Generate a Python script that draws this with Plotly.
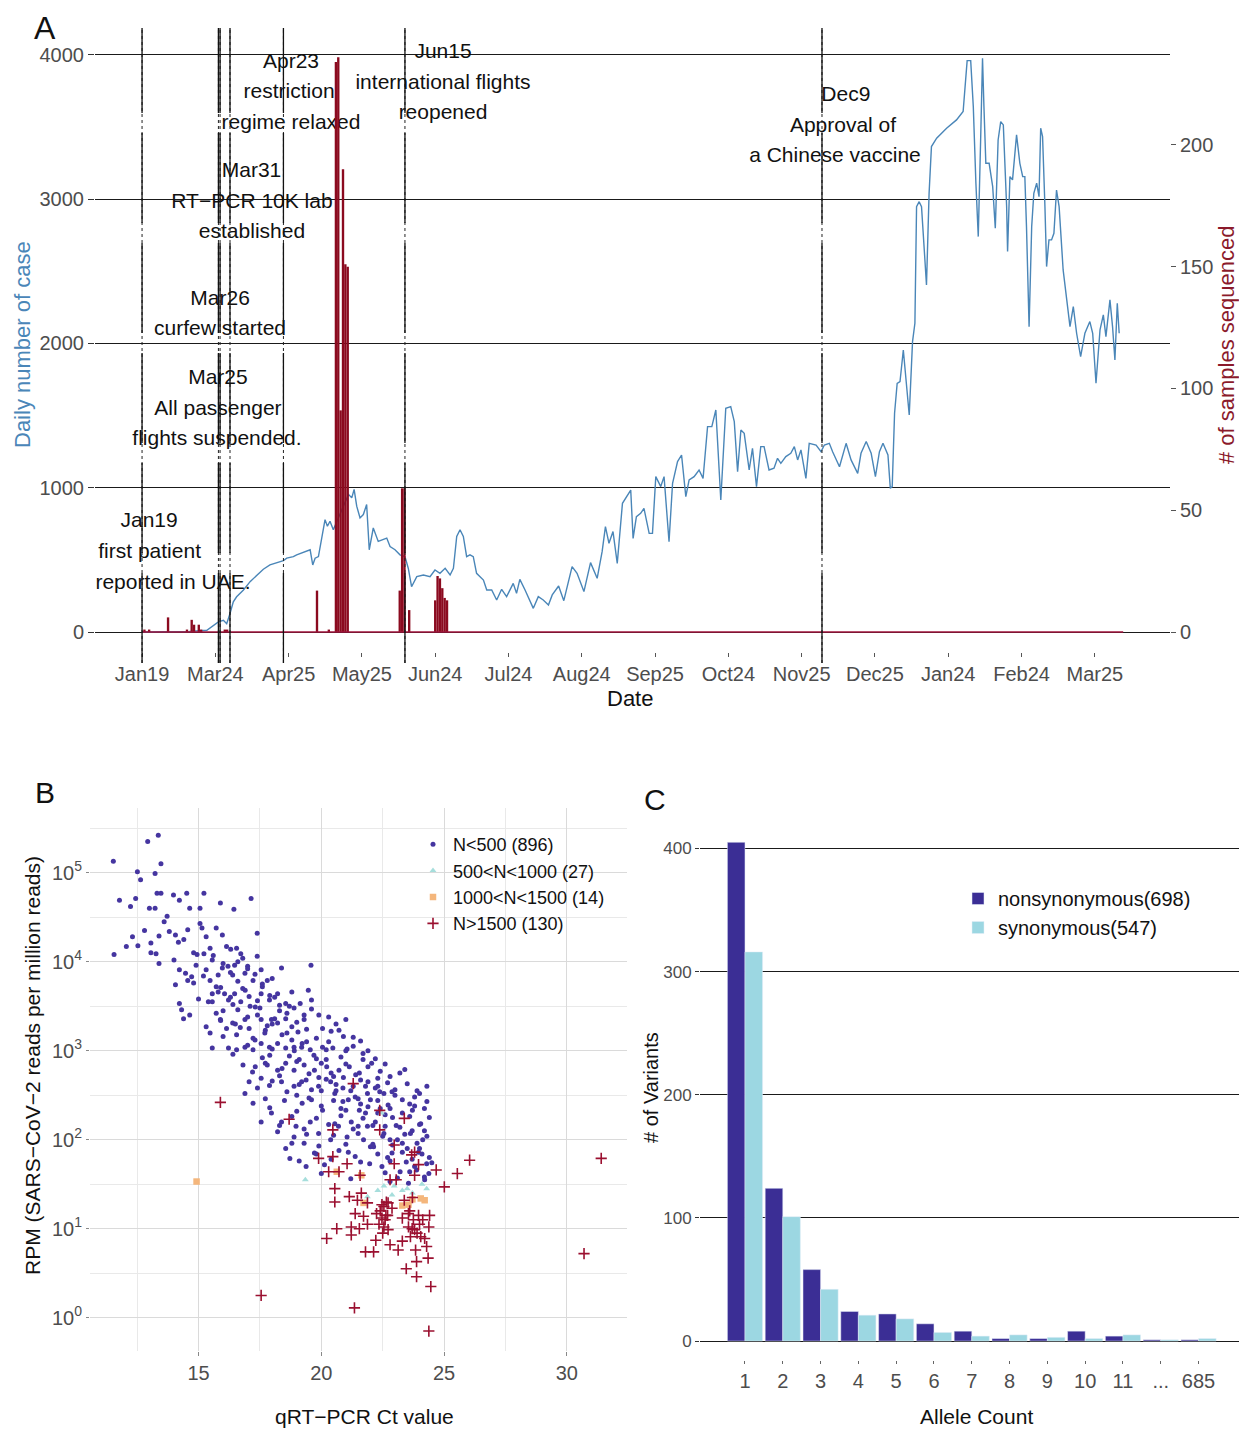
import plotly.graph_objects as go

W, H = 1239, 1429
FONT = "Liberation Sans, Arial, Helvetica, sans-serif"
GRAY = "#4D4D4D"

# ---------------- Panel A data ----------------
tick_idx = [0, 31, 62, 93, 124, 155, 186, 217, 248, 279, 310, 341, 372, 403]
tick_labels = ["Jan19", "Mar24", "Apr25", "May25", "Jun24", "Jul24", "Aug24", "Sep25",
               "Oct24", "Nov25", "Dec25", "Jan24", "Feb24", "Mar25"]

case_idx = [0, 20, 27.4, 30.2, 32.3, 34.4, 35.8, 37.2, 38.6, 40.0, 42.9, 45.7, 48.5, 51.3, 54.1,
            56.9, 59.8, 61.2, 64.0, 65.4, 68.2, 71.1, 72.2, 73.2, 74.6, 76.0, 77.4, 78.4, 79.5,
            80.9, 87.3, 88.7, 89.7, 90.8, 92.2, 93.6, 95.0, 96.1, 97.8, 99.9, 102.1, 103.5,
            104.9, 107.0, 109.1, 111.2, 112.6, 114.0, 116.2, 119.0, 121.8, 123.9, 126.0, 128.2,
            130.3, 131.7, 133.1, 134.5, 135.9, 137.3, 138.7, 140.1, 141.5, 144.4, 145.8, 147.9,
            150.0, 152.1, 154.2, 157.0, 158.4, 159.8, 162.0, 165.5, 167.6, 169.7, 171.9, 173.5,
            176.2, 178.4, 181.9, 184.0, 186.9, 189.7, 192.5, 194.6, 196.0, 197.5, 199.2, 201.0,
            203.2, 205.3, 206.7, 207.7, 209.1, 210.9, 212.3, 214.5, 215.9, 217.3, 219.4, 220.8,
            222.9, 224.4, 226.5, 228.2, 230.0, 231.4, 233.5, 235.6, 237.3, 239.2, 241.0, 242.7,
            243.4, 244.8, 246.9, 249.0, 250.5, 251.9, 253.3, 254.7, 256.8, 258.2, 259.9, 261.7,
            263.1, 265.2, 267.3, 268.8, 270.2, 272.3, 274.4, 275.9, 277.3, 278.7, 280.8, 282.2,
            285.1, 287.2, 288.6, 290.7, 292.1, 295.0, 297.8, 299.9, 302.7, 304.1, 306.3, 308.4,
            310.2, 311.9, 313.4, 315.5, 316.5, 317.3, 318.3, 319.4, 320.6, 322.0, 324.5, 325.9,
            326.9, 327.6, 328.7, 329.7, 331.8, 332.9, 333.9, 336.1, 340.3, 344.5, 347.3, 348.1,
            349.0, 350.5, 351.6, 352.7, 353.7, 354.7, 355.5, 356.1, 356.9, 358.3, 359.8, 360.9,
            362.1, 363.2, 364.3, 365.7, 366.1, 367.1, 368.2, 369.9, 371.3, 372.5, 373.4, 374.1,
            375.2, 376.3, 377.2, 378.4, 379.4, 380.1, 380.9, 381.9, 382.6, 383.6, 384.7, 385.7,
            386.8, 387.9, 389.6, 392.5, 393.9, 395.3, 397.0, 398.8, 400.9, 402.1, 403.5, 405.2,
            406.6, 407.7, 409.4, 410.5, 411.5, 412.5, 413.3]
case_val = [0, 3, 12, 47, 70, 81, 58, 128, 209, 244, 291, 349, 395, 435, 465,
            481, 495, 512, 523, 535, 551, 570, 465, 512, 523, 640, 779, 733, 768,
            709, 954, 930, 988, 872, 791, 814, 884, 570, 721, 628, 640, 651,
            593, 570, 535, 523, 442, 314, 384, 395, 384, 430, 407, 442,
            395, 442, 663, 709, 663, 523, 535, 522, 407, 360, 291, 291,
            222, 296, 245, 337, 268, 365, 291, 164, 245, 222, 187, 257,
            319, 217, 453, 407, 280, 481, 372, 557, 730, 615, 696, 476,
            892, 950, 984, 649, 800, 823, 857, 684, 684, 1077, 1008, 1077,
            626, 1031, 1181, 1227, 938, 1054, 1077, 1123, 1065, 1424, 1424, 1539,
            1354, 915, 1551, 1562, 1458, 1112, 1400, 1377, 1123, 1273, 1008, 1285,
            1285, 1123, 1135, 1204, 1169, 1216, 1239, 1285, 1193, 1262, 1065, 1308,
            1296, 1250, 1296, 1308, 1250, 1146, 1308, 1193, 1100, 1239, 1320, 1239,
            1077, 1250, 1308, 1227, 996, 1008, 1516, 1724, 1736, 1955, 1504, 2013,
            2140, 2949, 2983, 2949, 2406, 3041, 3365, 3423, 3492, 3550, 3608, 3804,
            3961, 3961, 3642, 3111, 2741, 3411, 3977, 3642, 3249, 3249, 3087, 2799,
            3411, 3538, 3515, 2949, 2637, 3157, 3134, 3446, 3249, 3157, 3157, 2810,
            2117, 2810, 3041, 3111, 3018, 3492, 3434, 2949, 2533, 2718, 2718, 2764,
            3064, 2949, 2510, 2117, 2256, 2071, 1909, 2071, 2152, 2071, 1724, 2094,
            2198, 2048, 2302, 2117, 1886, 2279, 2071]

sample_idx = [1, 3, 11, 19, 21, 22, 24, 25, 35, 36, 74, 79, 82, 83, 84, 85, 86, 87,
              109, 110, 111, 113, 124, 125, 126, 127, 128, 129]
sample_n = [1, 1, 6, 1, 5, 3, 3, 1, 1, 1, 17, 1, 234, 236, 91, 190, 151, 150,
            17, 59, 59, 9, 13, 23, 22, 18, 14, 13]
sample_span = [0, 415]

event_idx = [0, 32.3, 33.0, 37.2, 59.8, 111.2, 287.6]
event_lines = [
    (3.0, 763, "Jan19"), (3.2, 548, "first patient"), (13.1, 333, "reported in UAE."),
    (32.1, 1754, "Mar25"), (32.1, 1539, "All passenger"), (31.7, 1331, "flights suspended."),
    (33.0, 2302, "Mar26"), (33.0, 2094, "curfew started"),
    (46.3, 3189, "Mar31"), (46.5, 2974, "RT\u2212PCR 10K lab"), (46.5, 2766, "established"),
    (63.0, 3945, "Apr23"), (62.2, 3737, "restriction"), (63.0, 3522, "regime relaxed"),
    (127.3, 4014, "Jun15"), (127.3, 3799, "international flights"), (127.3, 3591, "reopened"),
    (297.7, 3716, "Dec9"), (296.5, 3501, "Approval of"), (293.1, 3293, "a Chinese vaccine"),
]

# ---------------- Panel B data (Ct value, log10 RPM) ----------------
blue_pts = [
    (11.53, 5.13), (13.36, 5.42), (12.93, 5.35), (12.51, 5.01), (13.47, 5.10), (13.23, 4.99),
    (12.64, 4.92), (11.78, 4.69), (12.44, 4.71), (12.23, 4.62), (13.31, 4.77), (13.47, 4.77),
    (11.56, 4.08), (12.06, 4.17), (12.31, 4.28), (12.53, 4.18), (13.06, 4.21), (13.27, 4.09),
    (13.39, 3.98), (13.06, 4.10), (13.23, 4.60), (13.39, 4.29), (13.72, 4.51), (13.98, 4.75),
    (14.22, 4.69), (14.52, 4.77), (15.22, 4.77), (15.89, 4.66), (16.44, 4.59), (17.14, 4.71),
    (14.64, 4.60), (15.06, 4.60), (13.81, 4.34), (14.06, 4.30), (14.18, 4.22), (14.56, 4.36),
    (15.06, 4.43), (15.14, 4.38), (15.31, 4.28), (15.47, 4.15), (15.72, 4.38), (15.97, 4.30),
    (16.14, 4.17), (16.31, 4.14), (16.55, 4.15), (17.39, 4.32), (17.39, 4.06), (14.94, 4.08),
    (15.22, 4.09), (15.56, 4.02), (15.97, 3.93), (16.47, 3.96), (16.72, 4.09), (19.58, 3.96),
    (14.22, 3.91), (14.47, 3.87), (14.72, 3.83), (14.06, 3.74), (14.56, 3.79), (15.31, 3.91),
    (15.47, 3.79), (15.72, 3.72), (16.39, 3.85), (16.89, 3.87), (17.22, 3.79), (17.55, 3.91),
    (17.80, 3.79), (18.38, 3.93), (19.47, 3.68), (14.22, 3.53), (14.31, 3.46), (14.39, 3.36),
    (14.64, 3.40), (15.56, 3.64), (15.56, 3.55), (15.72, 3.42), (16.06, 3.64), (16.22, 3.57),
    (16.47, 3.64), (16.72, 3.55), (17.06, 3.61), (17.31, 3.49), (17.55, 3.64), (17.89, 3.57),
    (18.22, 3.64), (18.55, 3.53), (18.89, 3.48), (19.14, 3.53), (15.31, 3.27), (15.47, 3.20),
    (15.56, 3.03), (15.89, 3.35), (16.14, 3.25), (16.39, 3.31), (16.55, 3.18), (16.89, 3.35),
    (17.06, 3.25), (17.22, 3.14), (17.55, 3.35), (17.72, 3.23), (17.97, 3.35), (18.22, 3.31),
    (18.55, 3.36), (18.80, 3.27), (19.05, 3.21), (19.30, 3.35), (20.05, 3.25), (20.72, 3.23),
    (16.22, 3.03), (16.55, 3.01), (16.89, 3.04), (17.22, 3.01), (17.55, 3.08), (17.89, 3.04),
    (18.22, 3.08), (18.55, 3.03), (18.89, 3.04), (19.22, 3.08), (19.55, 3.01), (20.05, 3.04),
    (20.47, 3.03), (21.05, 3.02), (16.81, 2.84), (17.31, 2.82), (17.72, 2.86), (18.22, 2.78),
    (18.55, 2.86), (18.89, 2.78), (19.30, 2.84), (19.72, 2.78), (20.22, 2.82), (20.72, 2.78),
    (21.14, 2.82), (21.55, 2.75), (22.05, 2.86), (22.30, 2.69), (17.06, 2.65), (17.55, 2.69),
    (17.89, 2.61), (18.38, 2.65), (18.89, 2.60), (19.38, 2.67), (19.89, 2.60), (20.38, 2.65),
    (20.88, 2.58), (21.80, 2.60), (21.88, 2.52), (22.38, 2.54), (16.89, 2.52), (17.22, 2.41),
    (17.72, 2.46), (17.55, 2.20), (17.97, 2.30), (18.22, 2.09), (18.38, 2.20), (18.55, 1.90),
    (18.72, 1.79), (18.89, 2.03), (18.97, 2.15), (19.22, 2.41), (19.30, 1.96), (19.38, 1.70),
    (19.55, 2.20), (19.72, 1.85), (19.89, 2.07), (20.05, 2.33), (20.13, 1.72), (20.38, 2.00),
    (20.55, 2.18), (20.72, 1.88), (20.88, 2.43), (21.05, 2.03), (21.22, 2.20), (21.38, 1.81),
    (21.55, 2.33), (21.72, 2.00), (21.88, 2.15), (21.97, 1.73), (22.13, 1.92), (22.30, 2.30),
    (22.47, 1.70), (22.55, 2.07), (22.72, 2.39), (22.88, 1.85), (23.05, 2.16), (23.21, 1.64),
    (23.30, 1.96), (23.46, 1.75), (23.63, 2.07), (23.71, 2.33), (23.88, 1.66), (23.96, 1.86),
    (24.05, 2.18), (24.21, 1.55), (24.29, 1.73), (24.38, 1.62), (24.13, 2.00), (23.80, 2.48),
    (21.38, 2.48), (20.55, 2.52), (22.55, 2.52), (22.88, 2.54), (23.55, 1.51), (22.80, 1.53),
    (18.6, 3.2), (18.9, 3.0), (19.1, 2.9), (19.4, 3.1), (19.7, 2.95), (19.9, 2.7), (20.2, 2.9),
    (20.4, 2.75), (20.6, 2.55), (20.9, 2.7), (21.1, 2.45), (21.3, 2.6), (21.6, 2.4), (21.8, 2.3),
    (22.0, 2.45), (22.2, 2.2), (22.4, 2.35), (22.6, 2.15), (22.9, 2.25), (23.1, 2.0), (23.3, 2.3),
    (23.5, 1.9), (23.7, 2.1), (24.0, 1.9), (24.2, 2.1), (18.0, 3.3), (18.3, 3.45), (17.7, 3.2),
    (17.4, 3.4), (17.1, 3.5), (16.8, 3.7), (16.5, 3.3), (19.0, 2.5), (19.6, 2.45), (20.0, 2.55),
    (20.8, 2.35), (21.5, 2.15), (22.1, 1.95), (22.7, 1.8), (23.8, 1.7), (24.4, 1.8), (19.3, 3.4),
    (20.3, 3.1), (21.0, 3.0), (21.7, 2.9), (22.3, 2.6), (23.0, 2.5), (23.6, 2.4), (24.2, 2.35),
    (18.4, 2.8), (19.2, 2.65), (17.9, 2.95), (20.7, 2.15), (21.9, 2.65), (22.8, 2.0), (15.8, 3.85),
    (16.2, 3.95), (16.6, 4.0), (14.8, 4.1), (14.4, 4.25), (13.6, 4.45), (13.0, 4.6), (12.8, 4.35),
    (15.4, 3.55), (16.0, 3.45), (16.3, 3.6), (17.0, 3.95), (17.6, 3.75), (18.1, 3.6), (18.7, 3.5),
    (19.9, 3.4), (20.6, 3.3), (21.3, 3.15), (21.9, 3.0), (22.6, 2.85), (23.2, 2.75), (23.9, 2.55),
    (24.3, 2.6),
    (14.0, 4.02), (14.9, 3.96), (15.6, 4.07), (16.0, 3.98), (16.8, 4.04), (17.0, 3.92),
    (14.8, 3.76), (15.2, 3.84), (15.9, 3.71), (16.3, 3.88), (16.6, 3.78), (17.3, 3.86), (17.6, 3.72),
    (18.0, 3.81), (15.0, 3.58), (15.8, 3.66), (16.4, 3.52), (16.9, 3.68), (17.4, 3.56), (17.9, 3.62),
    (18.3, 3.51), (18.8, 3.66), (19.6, 3.57), (15.9, 3.34), (16.6, 3.46), (17.0, 3.38), (17.5, 3.48),
    (18.1, 3.36), (18.6, 3.42), (19.0, 3.32), (19.6, 3.47), (20.3, 3.38), (21.0, 3.35), (16.0, 3.16),
    (16.7, 3.26), (17.3, 3.12), (17.8, 3.28), (18.4, 3.18), (18.8, 3.12), (19.4, 3.24), (19.8, 3.14),
    (20.4, 3.22), (20.9, 3.16), (21.6, 3.11), (16.4, 2.96), (17.0, 3.06), (17.6, 2.92), (18.0, 3.02),
    (18.7, 2.94), (19.2, 3.04), (19.8, 2.91), (20.2, 3.01), (20.8, 2.93), (21.3, 3.05), (21.7, 2.97),
    (22.2, 2.91), (17.2, 2.76), (17.8, 2.84), (18.3, 2.72), (19.0, 2.88), (19.5, 2.74), (20.0, 2.86),
    (20.5, 2.71), (21.0, 2.85), (21.4, 2.73), (21.9, 2.82), (22.4, 2.77), (22.8, 2.71), (23.4, 2.79),
    (17.4, 2.58), (18.0, 2.66), (18.6, 2.54), (19.1, 2.62), (19.6, 2.56), (20.2, 2.68), (20.6, 2.62),
    (21.2, 2.55), (21.6, 2.67), (22.2, 2.58), (22.7, 2.64), (23.0, 2.56), (23.5, 2.63), (24.0, 2.52),
    (17.9, 2.36), (18.5, 2.44), (19.0, 2.32), (19.5, 2.47), (20.0, 2.38), (20.5, 2.44), (21.0, 2.33),
    (21.5, 2.46), (21.9, 2.37), (22.3, 2.44), (22.8, 2.35), (23.3, 2.45), (23.8, 2.38), (24.3, 2.43),
    (18.3, 2.16), (18.8, 2.26), (19.3, 2.12), (19.8, 2.24), (20.3, 2.17), (20.8, 2.27), (21.3, 2.12),
    (21.7, 2.24), (22.1, 2.16), (22.6, 2.28), (23.2, 2.14), (23.6, 2.26), (24.0, 2.17), (24.4, 2.25),
    (18.8, 1.96), (19.4, 2.06), (19.9, 1.93), (20.5, 2.05), (21.0, 1.95), (21.5, 2.07), (22.0, 1.92),
    (22.5, 2.04), (22.9, 1.94), (23.4, 2.06), (23.9, 1.96), (24.3, 2.04), (19.1, 1.76), (19.8, 1.84),
    (20.4, 1.78), (21.1, 1.86), (21.6, 1.75), (22.3, 1.84), (22.8, 1.76), (23.3, 1.86), (23.7, 1.78),
    (24.1, 1.84), (24.5, 1.74), (20.0, 1.62), (21.2, 1.56), (22.6, 1.63), (23.1, 1.57), (23.6, 1.64),
    (24.2, 1.58),
]
cyan_pts = [(19.35, 1.55), (22.30, 1.43), (22.88, 1.38), (23.30, 1.43), (23.71, 1.40), (24.29, 1.45),
            (22.55, 1.48), (22.97, 1.48), (21.88, 1.36), (22.45, 2.30), (23.5, 1.45), (24.1, 1.50)]
orange_pts = [(14.92, 1.53), (20.63, 1.64), (21.63, 1.60), (21.72, 1.29), (24.21, 1.32), (23.55, 1.27),
              (23.30, 1.26), (24.05, 1.34), (23.71, 1.33)]
red_pts = [
    (15.89, 2.42), (17.55, 0.25), (18.69, 2.23), (19.89, 1.79), (20.22, 0.89), (20.30, 1.64),
    (20.47, 1.81), (20.47, 2.11), (20.55, 1.45), (20.55, 1.30), (20.63, 1.00), (20.72, 1.64),
    (21.05, 1.73), (21.14, 1.36), (21.22, 1.02), (21.22, 0.93), (21.35, 0.11), (21.38, 1.17),
    (21.47, 1.32), (21.55, 1.00), (21.58, 1.60), (21.63, 1.40), (21.72, 1.14), (21.80, 0.74),
    (21.88, 1.29), (21.88, 1.05), (22.13, 0.74), (22.22, 0.87), (22.25, 1.17), (22.38, 2.11),
    (22.38, 2.33), (22.47, 1.27), (22.47, 1.12), (22.55, 1.02), (22.63, 1.15), (22.72, 1.29),
    (22.72, 0.99), (22.80, 1.55), (22.80, 0.82), (22.88, 1.23), (22.97, 1.94), (22.97, 1.73),
    (23.05, 1.55), (23.13, 0.76), (23.30, 1.12), (23.30, 0.86), (23.38, 2.24), (23.38, 1.32),
    (23.46, 0.55), (23.55, 1.17), (23.55, 1.02), (23.63, 0.91), (23.68, 1.83), (23.71, 1.35),
    (23.75, 1.10), (23.80, 0.99), (23.84, 0.76), (23.88, 0.63), (23.88, 0.46), (23.96, 1.15),
    (23.96, 1.72), (24.05, 0.91), (24.13, 1.10), (24.21, 0.89), (24.29, 0.80), (24.35, 0.67),
    (24.38, 1.02), (24.41, 1.15), (24.46, 0.35), (24.38, -0.15), (24.68, 1.66), (25.01, 1.47),
    (25.54, 1.62), (26.04, 1.77), (30.70, 0.72), (31.40, 1.79), (21.30, 2.63), (23.80, 1.86),
    (23.80, 1.60), (22.40, 1.20), (22.55, 1.25), (22.60, 1.10), (22.50, 0.95), (22.65, 1.30),
    (22.35, 1.05), (22.70, 1.15), (23.70, 1.00), (23.90, 0.95), (24.00, 1.05), (23.60, 1.20),
]

# ---------------- Panel C data ----------------
allele_labels = ["1", "2", "3", "4", "5", "6", "7", "8", "9", "10", "11", "...", "685"]
nonsyn = [405, 124, 58, 24, 22, 14, 8, 2, 2, 8, 4, 1, 1]
syn = [316, 101, 42, 21, 18, 7, 4, 5, 3, 2, 5, 1, 2]


def px(x):
    return x / W


def py(y):
    return 1 - y / H


fig = go.Figure()

# Panel A
fig.add_trace(go.Scatter(x=case_idx, y=case_val, mode="lines", line=dict(color="#4A86B8", width=1.4),
                         xaxis="x", yaxis="y", showlegend=False, hoverinfo="skip"))
fig.add_trace(go.Scatter(x=[e[0] for e in event_lines], y=[e[1] for e in event_lines],
                         text=[e[2] for e in event_lines], mode="text", textposition="middle center",
                         textfont=dict(family=FONT, size=21, color="#111111"),
                         xaxis="x", yaxis="y", showlegend=False, hoverinfo="skip"))
fig.add_trace(go.Bar(x=sample_idx, y=sample_n, width=1.0, marker=dict(color="#8B0A1F", line=dict(width=0)),
                     xaxis="x", yaxis="y2", showlegend=False, hoverinfo="skip"))
fig.add_trace(go.Scatter(x=sample_span, y=[0, 0], mode="lines", line=dict(color="#A0143C", width=1.6),
                         xaxis="x", yaxis="y2", showlegend=False, hoverinfo="skip"))

# Panel B
groups = [
    ("N&lt;500 (896)", blue_pts, dict(symbol="circle", size=5, color="#4535A0")),
    ("500&lt;N&lt;1000 (27)", cyan_pts, dict(symbol="triangle-up", size=6, color="#A6DEDC")),
    ("1000&lt;N&lt;1500 (14)", orange_pts, dict(symbol="square", size=6.5, color="#F4B67C")),
    ("N&gt;1500 (130)", red_pts, dict(symbol="cross-thin", size=8, color="#9B1030",
                                      line=dict(color="#9B1030", width=1.6))),
]
for name, pts, mk in groups:
    fig.add_trace(go.Scatter(x=[p[0] for p in pts], y=[10 ** p[1] for p in pts], mode="markers",
                             marker=mk, name=name, xaxis="x2", yaxis="y3", legend="legend",
                             hoverinfo="skip"))

# Panel C
fig.add_trace(go.Bar(x=allele_labels, y=nonsyn, name="nonsynonymous(698)", marker=dict(color="#3B2E95"),
                     xaxis="x3", yaxis="y4", legend="legend2", hoverinfo="skip"))
fig.add_trace(go.Bar(x=allele_labels, y=syn, name="synonymous(547)", marker=dict(color="#9CD7E2"),
                     xaxis="x3", yaxis="y4", legend="legend2", hoverinfo="skip"))

tickfont = dict(family=FONT, size=20, color=GRAY)

# event lines run from top of panel A (y=28px) to just below its x axis (y=663px)
A_TOP, A_BOT = 28, 652
ev_y0 = -(663 - A_BOT) / (A_BOT - A_TOP)
shapes = []
for ex in event_idx:
    shapes.append(dict(type="line", xref="x", yref="y domain", x0=ex, x1=ex, y0=ev_y0, y1=1,
                       line=dict(color="#222222", width=1, dash="dot"), layer="above"))
    shapes.append(dict(type="line", xref="x", yref="y domain", x0=ex, x1=ex, y0=ev_y0, y1=1,
                       line=dict(color="#111111", width=1.3, dash="90px,20px"), layer="above"))

annotations = [
    dict(text="A", x=px(45), y=py(28), font=dict(size=32)),
    dict(text="B", x=px(45), y=py(793), font=dict(size=30)),
    dict(text="C", x=px(655), y=py(800), font=dict(size=30)),
    dict(text="Daily number of case", x=px(22), y=py(345), textangle=-90,
         font=dict(size=22, color="#4A86B8")),
    dict(text="# of samples sequenced", x=px(1226), y=py(345), textangle=-90,
         font=dict(size=22, color="#8B1A2B")),
    dict(text="Date", x=px(630), y=py(698), font=dict(size=22, color="#111111")),
    dict(text="RPM (SARS\u2212CoV\u22122 reads per million reads)", x=px(32), y=py(1066), textangle=-90,
         font=dict(size=21, color="#111111")),
    dict(text="qRT\u2212PCR Ct value", x=px(364), y=py(1416), font=dict(size=21, color="#111111")),
    dict(text="# of Variants", x=px(651), y=py(1088), textangle=-90, font=dict(size=20, color="#111111")),
    dict(text="Allele Count", x=px(976), y=py(1416), font=dict(size=21, color="#111111")),
]
for a in annotations:
    a.update(xref="paper", yref="paper", showarrow=False, xanchor="center", yanchor="middle")
    a["font"].setdefault("color", "#111111")
    a["font"]["family"] = FONT

fig.update_layout(
    width=W, height=H, margin=dict(l=0, r=0, t=0, b=0),
    paper_bgcolor="white", plot_bgcolor="white",
    font=dict(family=FONT, color="#111111"),
    barmode="group", bargap=0.07, bargroupgap=0,
    shapes=shapes, annotations=annotations,
    xaxis=dict(domain=[px(95), px(1170)], range=[-19.9, 434.8], tickmode="array", tickvals=tick_idx,
               ticktext=tick_labels, ticks="outside", ticklen=4, tickcolor="#555555", showgrid=False,
               zeroline=False, showline=False, tickfont=tickfont, anchor="y"),
    yaxis=dict(domain=[py(A_BOT), py(A_TOP)], range=[-138.6, 4187], tickvals=[0, 1000, 2000, 3000, 4000],
               showgrid=True, gridcolor="#1A1A1A", gridwidth=1.3, ticks="outside", ticklen=6,
               tickcolor="#333333", zeroline=False, showline=False, tickfont=tickfont, anchor="x"),
    yaxis2=dict(overlaying="y", side="right", anchor="x", range=[-8.21, 248.0],
                tickvals=[0, 50, 100, 150, 200], ticks="outside", ticklen=5, tickcolor="#555555",
                showgrid=False, zeroline=False, showline=False, tickfont=tickfont),
    xaxis2=dict(domain=[px(90), px(627)], range=[10.58, 32.45], tickvals=[15, 20, 25, 30], ticks="outside",
                ticklen=4, tickcolor="#888888", showgrid=True, gridcolor="#DADADA", gridwidth=1,
                minor=dict(tickvals=[12.5, 17.5, 22.5, 27.5, 32.5], showgrid=True, gridcolor="#E9E9E9",
                           gridwidth=1),
                zeroline=False, showline=False, tickfont=tickfont, anchor="y3"),
    yaxis3=dict(type="log", domain=[py(1351), py(808)], range=[-0.374, 5.727],
                tickvals=[1, 10, 100, 1000, 10000, 100000],
                ticktext=["10<sup>0</sup>", "10<sup>1</sup>", "10<sup>2</sup>", "10<sup>3</sup>",
                          "10<sup>4</sup>", "10<sup>5</sup>"],
                ticks="outside", ticklen=3, tickcolor="#888888", showgrid=True, gridcolor="#DADADA",
                minor=dict(tickvals=[10 ** (k + 0.5) for k in range(6)], showgrid=True,
                           gridcolor="#E9E9E9", gridwidth=1),
                zeroline=False, showline=False, tickfont=tickfont, anchor="x2"),
    xaxis3=dict(type="category", domain=[px(700), 1.0], range=[-1.19, 13.07], categoryorder="array",
                categoryarray=allele_labels, ticks="outside", ticklen=3, tickcolor="#666666",
                showgrid=False, zeroline=False, showline=False, tickfont=tickfont, anchor="y4"),
    yaxis4=dict(domain=[py(1360), py(830)], range=[-15.4, 415], tickvals=[0, 100, 200, 300, 400],
                showgrid=True, gridcolor="#1A1A1A", gridwidth=1.3, ticks="outside", ticklen=4,
                tickcolor="#333333", zeroline=False, showline=False,
                tickfont=dict(family=FONT, size=17, color=GRAY), anchor="x3"),
    legend=dict(x=px(413), y=py(826), xanchor="left", yanchor="top", bgcolor="rgba(0,0,0,0)",
                font=dict(family=FONT, size=18, color="#111111"), tracegroupgap=0),
    legend2=dict(x=px(958), y=py(879), xanchor="left", yanchor="top", bgcolor="rgba(0,0,0,0)",
                 font=dict(family=FONT, size=20, color="#111111"), tracegroupgap=0),
)

fig.write_html("out.html", config={"displayModeBar": False},
               post_script="document.body.style.margin='0px';document.body.style.overflow='hidden';")
